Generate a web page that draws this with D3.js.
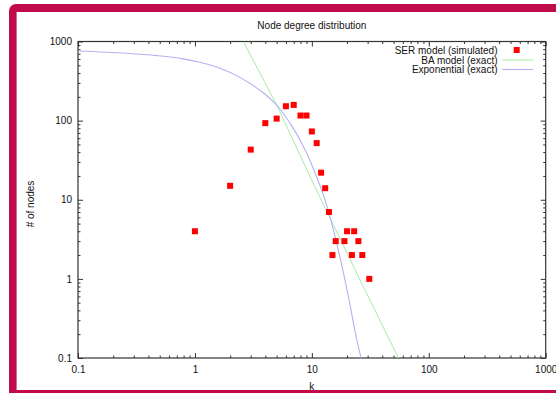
<!DOCTYPE html>
<html>
<head>
<meta charset="utf-8">
<script src="https://cdn.jsdelivr.net/npm/d3@7"></script>
<style>
  html, body { margin: 0; padding: 0; background: #fff; }
  text { font-family: "Liberation Sans", Arial, Helvetica, sans-serif; }
</style>
</head>
<body>
<div id="chart"></div>
<script>
// SER model (simulated): degree k and number of nodes
const serK = [1, 2, 3, 4, 5, 6, 7, 8, 9, 10, 11, 12, 13, 14, 15, 16, 19, 20, 22, 23, 25, 27, 31];
const serN = [4, 15, 43, 93, 106, 152, 158, 116, 116, 73, 52, 22, 14, 7, 2, 3, 3, 4, 2, 4, 3, 2, 1];

// BA model (exact)
const baK = [2.6, 5, 10, 28.5, 55];
const baN = [1000, 158, 17.5, 0.72, 0.1];

// Exponential (exact)
const expK = [0.1, 0.26, 0.47, 0.79, 1.1, 1.64, 2.43, 2.96, 3.82, 4.84, 5.67, 6.9, 8.25, 9.1, 10.65, 12.97, 16.75, 20.4, 24.36, 26.36];
const expN = [760, 711, 663, 603, 547, 460, 352, 295, 227, 165, 125, 81, 50.8, 37.9, 21.8, 9.94, 2.39, 0.63, 0.164, 0.1];

const xTickValues = [0.1, 1, 10, 100, 1000];
const xTickLabels = ["0.1", "1", "10", "100", "1000"];
const yTickValues = [0.1, 1, 10, 100, 1000];
const yTickLabels = ["0.1", "1", "10", "100", "1000"];

const legendLabels = ["SER model (simulated)", "BA model (exact)", "Exponential (exact)"];

const width = 556;
const height = 393;
var margin = { top: 41.5, right: 10.3, bottom: 35, left: 78 };
var plotW = width - margin.left - margin.right;
var plotH = height - margin.top - margin.bottom;

var greenCol = "#a6eba6";
var blueCol = "#b2b2f4";

var svg = d3.select("#chart").append("svg")
  .attr("width", width)
  .attr("height", height);

// crimson frame round the whole picture
svg.append("rect")
  .attr("x", 9).attr("y", 4)
  .attr("width", 620).attr("height", 386 + 10)
  .attr("rx", 7)
  .attr("fill", "#bf0a4b");
svg.append("rect")
  .attr("x", 16.6).attr("y", 12)
  .attr("width", 620).attr("height", 378)
  .attr("fill", "#ffffff");

var x = d3.scaleLog().domain([0.1, 1000]).range([0, plotW]);
var y = d3.scaleLog().domain([0.1, 1000]).range([plotH, 0]);

var g = svg.append("g")
  .attr("transform", "translate(" + margin.left + "," + margin.top + ")");

g.append("clipPath").attr("id", "plotclip")
  .append("rect").attr("width", plotW).attr("height", plotH);

// minor ticks are the log scale's own 2..9 ticks
var xMinor = x.ticks().filter(d => xTickValues.indexOf(d) < 0);
var yMinor = y.ticks().filter(d => yTickValues.indexOf(d) < 0);

function styleAxis(sel) {
  sel.select(".domain").remove();
  sel.selectAll(".tick line").attr("stroke", "#333").attr("stroke-width", 1);
  sel.selectAll(".tick text")
    .attr("fill", "#111")
    .attr("font-size", "10px");
}

// bottom
g.append("g")
  .attr("transform", "translate(0," + plotH + ")")
  .call(d3.axisBottom(x).tickValues(xTickValues)
    .tickFormat((d, i) => xTickLabels[i]).tickSize(-5).tickPadding(7.4))
  .call(styleAxis);
g.append("g")
  .attr("transform", "translate(0," + plotH + ")")
  .call(d3.axisBottom(x).tickValues(xMinor).tickFormat("").tickSize(-2.5))
  .call(styleAxis);
// top
g.append("g")
  .call(d3.axisTop(x).tickValues(xTickValues).tickFormat("").tickSize(-5))
  .call(styleAxis);
g.append("g")
  .call(d3.axisTop(x).tickValues(xMinor).tickFormat("").tickSize(-2.5))
  .call(styleAxis);
// left
g.append("g")
  .call(d3.axisLeft(y).tickValues(yTickValues)
    .tickFormat((d, i) => yTickLabels[i]).tickSize(-5).tickPadding(6))
  .call(styleAxis);
g.append("g")
  .call(d3.axisLeft(y).tickValues(yMinor).tickFormat("").tickSize(-2.5))
  .call(styleAxis);
// right
g.append("g")
  .attr("transform", "translate(" + plotW + ",0)")
  .call(d3.axisRight(y).tickValues(yTickValues).tickFormat("").tickSize(-5))
  .call(styleAxis);
g.append("g")
  .attr("transform", "translate(" + plotW + ",0)")
  .call(d3.axisRight(y).tickValues(yMinor).tickFormat("").tickSize(-2.5))
  .call(styleAxis);

// plot border
g.append("rect")
  .attr("width", plotW).attr("height", plotH)
  .attr("fill", "none")
  .attr("stroke", "#333")
  .attr("stroke-width", 1.2);

var line = d3.line()
  .x(d => x(d[0]))
  .y(d => y(d[1]));

var baData = baK.map((k, i) => [k, baN[i]]);
var expData = expK.map((k, i) => [k, expN[i]]);
var serData = serK.map((k, i) => [k, serN[i]]);

var curves = g.append("g").attr("clip-path", "url(#plotclip)");

curves.append("path")
  .datum(baData)
  .attr("d", line)
  .attr("fill", "none")
  .attr("stroke", greenCol)
  .attr("stroke-width", 1);

curves.append("path")
  .datum(expData)
  .attr("d", line.curve(d3.curveMonotoneX))
  .attr("fill", "none")
  .attr("stroke", blueCol)
  .attr("stroke-width", 1.1);

// simulated points as small squares
var sq = 6;
curves.selectAll(".pt")
  .data(serData)
  .enter().append("rect")
  .attr("class", "pt")
  .attr("x", d => x(d[0]) - sq / 2)
  .attr("y", d => y(d[1]) - sq / 2)
  .attr("width", sq)
  .attr("height", sq)
  .attr("fill", "#ff0000");

// legend
var legX = 497.5 - margin.left;
var legY = [50, 60, 69.5];
legendLabels.forEach(function (lab, i) {
  g.append("text")
    .attr("x", legX)
    .attr("y", legY[i] - margin.top)
    .attr("dy", "0.35em")
    .attr("text-anchor", "end")
    .attr("font-size", "10px")
    .attr("fill", "#111")
    .text(lab);
});
g.append("rect")
  .attr("x", 516.7 - margin.left - sq / 2)
  .attr("y", legY[0] - margin.top - sq / 2)
  .attr("width", sq).attr("height", sq)
  .attr("fill", "#ff0000");
g.append("line")
  .attr("x1", 502 - margin.left).attr("x2", 533 - margin.left)
  .attr("y1", legY[1] - margin.top).attr("y2", legY[1] - margin.top)
  .attr("stroke", greenCol);
g.append("line")
  .attr("x1", 502 - margin.left).attr("x2", 533 - margin.left)
  .attr("y1", legY[2] - margin.top).attr("y2", legY[2] - margin.top)
  .attr("stroke", blueCol).attr("stroke-width", 1.1);

// titles
svg.append("text")
  .attr("x", margin.left + plotW / 2)
  .attr("y", 25)
  .attr("dy", "0.35em")
  .attr("text-anchor", "middle")
  .attr("font-size", "10px")
  .attr("fill", "#111")
  .text("Node degree distribution");

svg.append("text")
  .attr("x", margin.left + plotW / 2)
  .attr("y", 386)
  .attr("dy", "0.35em")
  .attr("text-anchor", "middle")
  .attr("font-size", "10px")
  .attr("fill", "#111")
  .text("k");

svg.append("text")
  .attr("transform", "translate(30,204) rotate(-90)")
  .attr("dy", "0.35em")
  .attr("text-anchor", "middle")
  .attr("font-size", "10px")
  .attr("fill", "#111")
  .text("# of nodes");
</script>
</body>
</html>
